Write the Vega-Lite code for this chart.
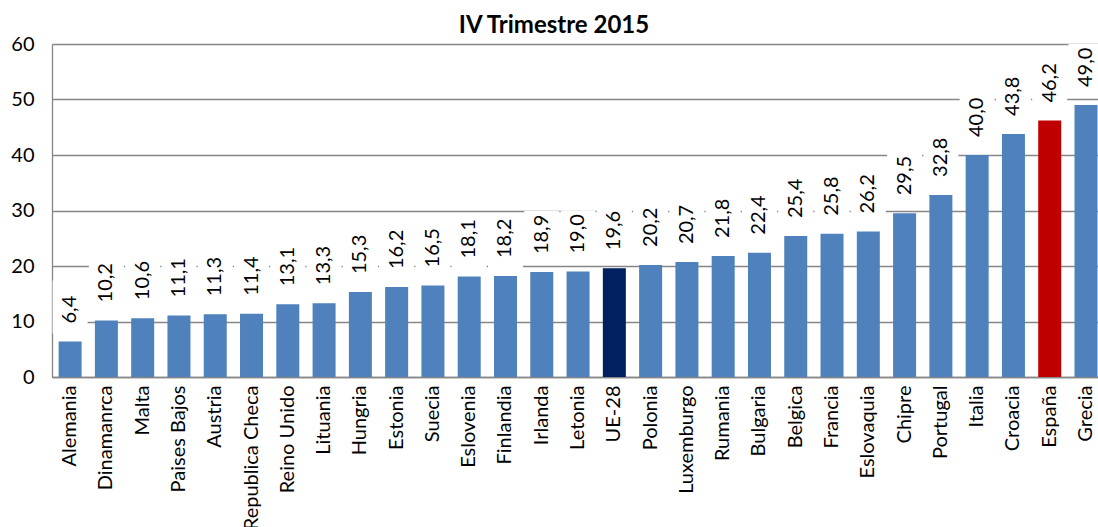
{
  "$schema": "https://vega.github.io/schema/vega-lite/v6.json",
  "width": 1046,
  "height": 333,
  "autosize": {"type": "none"},
  "padding": {"left": 52, "top": 44, "right": 0, "bottom": 150},
  "config": {
    "font": "Lato",
    "view": {"stroke": null},
    "locale": {"number": {"decimal": ",", "thousands": ".", "grouping": [3], "currency": ["", " €"]}}
  },
  "title": {"text": "IV Trimestre 2015", "fontSize": 24, "fontWeight": "bold", "anchor": "middle", "dx": -21, "offset": -4, "color": "#000000", "font": "Lato"},
  "data": {"values": [
    {"pais": "Alemania", "valor": 6.4},
    {"pais": "Dinamanrca", "valor": 10.2},
    {"pais": "Malta", "valor": 10.6},
    {"pais": "Paises Bajos", "valor": 11.1},
    {"pais": "Austria", "valor": 11.3},
    {"pais": "Republica Checa", "valor": 11.4},
    {"pais": "Reino Unido", "valor": 13.1},
    {"pais": "Lituania", "valor": 13.3},
    {"pais": "Hungria", "valor": 15.3},
    {"pais": "Estonia", "valor": 16.2},
    {"pais": "Suecia", "valor": 16.5},
    {"pais": "Eslovenia", "valor": 18.1},
    {"pais": "Finlandia", "valor": 18.2},
    {"pais": "Irlanda", "valor": 18.9},
    {"pais": "Letonia", "valor": 19.0},
    {"pais": "UE-28", "valor": 19.6},
    {"pais": "Polonia", "valor": 20.2},
    {"pais": "Luxemburgo", "valor": 20.7},
    {"pais": "Rumania", "valor": 21.8},
    {"pais": "Bulgaria", "valor": 22.4},
    {"pais": "Belgica", "valor": 25.4},
    {"pais": "Francia", "valor": 25.8},
    {"pais": "Eslovaquia", "valor": 26.2},
    {"pais": "Chipre", "valor": 29.5},
    {"pais": "Portugal", "valor": 32.8},
    {"pais": "Italia", "valor": 40.0},
    {"pais": "Croacia", "valor": 43.8},
    {"pais": "España", "valor": 46.2},
    {"pais": "Grecia", "valor": 49.0}
  ]},
  "encoding": {
    "x": {
      "field": "pais", "type": "nominal", "sort": null,
      "scale": {"paddingInner": 0.366, "paddingOuter": 0.098, "align": 0.93},
      "axis": {"title": null, "labelAngle": -90, "labelFontSize": 20, "labelColor": "#000000", "labelPadding": 8, "ticks": false, "domainColor": "#868686", "domainWidth": 1.3, "labelLimit": 0}
    },
    "y": {
      "field": "valor", "type": "quantitative",
      "scale": {"domain": [0, 60], "nice": false},
      "axis": {"title": null, "values": [0, 10, 20, 30, 40, 50, 60], "grid": true, "gridColor": "#868686", "gridWidth": 1.3, "domainColor": "#868686", "domainWidth": 1.3, "ticks": false, "labelPadding": 18, "labelFontSize": 20, "labelColor": "#000000"}
    }
  },
  "layer": [
    {
      "mark": {"type": "bar", "color": "#ffffff", "width": 35, "yOffset": -8, "y2Offset": -61},
      "encoding": {"y2": {"field": "valor"}}
    },
    {
      "mark": {"type": "bar"},
      "encoding": {
        "color": {
          "condition": [
            {"test": "datum.pais === 'UE-28'", "value": "#002060"},
            {"test": "datum.pais === 'España'", "value": "#C00000"}
          ],
          "value": "#4F81BD"
        }
      }
    },
    {
      "mark": {"type": "text", "angle": 270, "align": "left", "baseline": "middle", "yOffset": -18, "fontSize": 20, "color": "#000000"},
      "encoding": {"text": {"field": "valor", "type": "quantitative", "format": ".1f"}}
    }
  ]
}
